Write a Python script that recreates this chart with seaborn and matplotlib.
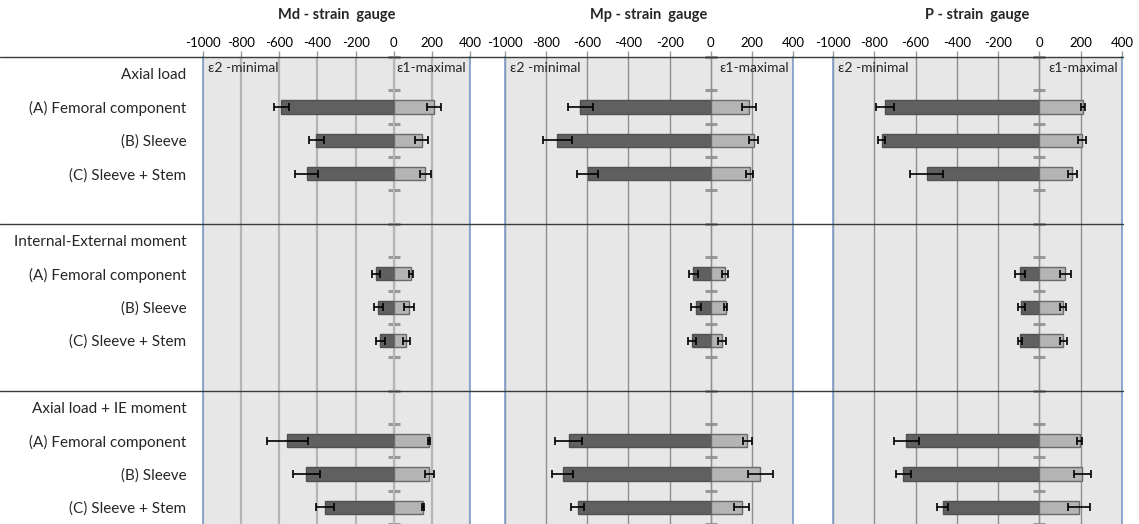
import matplotlib.pyplot as plt
import matplotlib.transforms as mtransforms
from matplotlib.lines import Line2D
import numpy as np
import pandas as pd
import seaborn as sns

# rows of the chart (top to bottom), headers and gaps have no bars
row_keys = ["h1", "A1", "B1", "C1", "g1",
            "h2", "A2", "B2", "C2", "g2",
            "h3", "A3", "B3", "C3"]
row_labels = ["Axial load", "(A) Femoral component", "(B) Sleeve", "(C) Sleeve + Stem", "",
              "Internal-External moment", "(A) Femoral component", "(B) Sleeve", "(C) Sleeve + Stem", "",
              "Axial load + IE moment", "(A) Femoral component", "(B) Sleeve", "(C) Sleeve + Stem"]
bar_rows = ["A1", "B1", "C1", "A2", "B2", "C2", "A3", "B3", "C3"]

gauges = ["Md - strain  gauge", "Mp - strain  gauge", "P - strain  gauge"]

# eps2 (minimal) and eps1 (maximal) strains, mean and sd
md_eps2 = [-589, -405, -455, -92, -80, -70, -557, -459, -360]
md_eps2_sd = [40, 40, 60, 22, 22, 23, 108, 71, 47]
md_eps1 = [212, 146, 166, 91, 80, 67, 185, 187, 154]
md_eps1_sd = [37, 32, 27, 10, 25, 20, 5, 23, 7]

mp_eps2 = [-633, -745, -598, -84, -70, -90, -691, -720, -647]
mp_eps2_sd = [63, 70, 52, 22, 24, 20, 65, 50, 30]
mp_eps1 = [186, 208, 190, 70, 73, 56, 177, 242, 150]
mp_eps1_sd = [34, 23, 17, 15, 7, 20, 22, 60, 36]

p_eps2 = [-748, -765, -545, -95, -88, -95, -644, -659, -469]
p_eps2_sd = [45, 15, 80, 24, 17, 10, 60, 38, 25]
p_eps1 = [210, 205, 160, 125, 113, 116, 195, 208, 191]
p_eps1_sd = [10, 20, 20, 26, 15, 18, 13, 42, 52]

data = [(md_eps2, md_eps2_sd, md_eps1, md_eps1_sd),
        (mp_eps2, mp_eps2_sd, mp_eps1, mp_eps1_sd),
        (p_eps2, p_eps2_sd, p_eps1, p_eps1_sd)]

sns.set_style("white")
plt.rcParams["font.family"] = ["Lato", "DejaVu Sans"]
plt.rcParams["axes.unicode_minus"] = False

W, H = 1139, 524
fig = plt.figure(figsize=(W / 100, H / 100), dpi=100)

# axes boxes in pixels: left, right
boxes = [(203, 470), (505, 793), (833, 1122)]
top_px = 57
grid_col = ["#b5b5b5", "#8f8f8f", "#8f8f8f"]
grid_lw = [1.6, 1.0, 1.0]

positions = [row_keys.index(k) for k in bar_rows]
axes = []
for i, ((l, r), (e2, e2sd, e1, e1sd)) in enumerate(zip(boxes, data)):
    ax = fig.add_axes([l / W, 0, (r - l) / W, (H - top_px) / H])
    axes.append(ax)
    ax.set_facecolor("#e7e7e7")

    neg = pd.DataFrame({"row": bar_rows, "value": e2})
    pos = pd.DataFrame({"row": bar_rows, "value": e1})
    sns.barplot(data=neg, x="value", y="row", order=row_keys, orient="h",
                color="#606060", saturation=1, width=0.4, edgecolor="#505050",
                linewidth=1, errorbar=None, ax=ax, zorder=2)
    sns.barplot(data=pos, x="value", y="row", order=row_keys, orient="h",
                color="#b4b4b4", saturation=1, width=0.4, edgecolor="#6a6a6a",
                linewidth=1, errorbar=None, ax=ax, zorder=2)
    ax.errorbar(e2, positions, xerr=e2sd, fmt="none", ecolor="black",
                elinewidth=1.2, capsize=3, capthick=1.2, zorder=4)
    ax.errorbar(e1, positions, xerr=e1sd, fmt="none", ecolor="black",
                elinewidth=1.2, capsize=3, capthick=1.2, zorder=4)

    ax.set_xlim(-1000, 400)
    ax.set_ylim(13.5, -0.5)
    ax.set_xticks(np.arange(-1000, 401, 200))
    ax.xaxis.tick_top()
    ax.tick_params(axis="x", length=4, width=1, color="#999999", pad=2,
                   labelsize=9.5, labelcolor="black")
    ax.grid(axis="x", color=grid_col[i], lw=grid_lw[i])
    ax.set_axisbelow(True)
    ax.set_xlabel("")
    ax.set_ylabel("")

    if i == 0:
        ax.set_yticks(range(len(row_keys)))
        ax.set_yticklabels(row_labels, fontsize=11)
        ax.tick_params(axis="y", length=0, pad=12)
    else:
        ax.set_yticks([])

    for s in ["top", "bottom"]:
        ax.spines[s].set_visible(False)
    for s in ["left", "right"]:
        ax.spines[s].set_color("#7f9cc8")
        ax.spines[s].set_linewidth(1.2)

    # vertical axis crossing at zero with cross ticks between rows
    zero = ax.secondary_yaxis(location=1000 / 1400)
    zero.set_yticks(np.arange(-0.5, len(row_keys), 1))
    zero.set_yticklabels([])
    zero.tick_params(direction="inout", length=9, width=2.2, color="#9a9a9a",
                     labelleft=False, labelright=False)
    zero.spines["left"].set_color("#9a9a9a")
    zero.spines["left"].set_linewidth(2.5)

    lbl_tr = mtransforms.blended_transform_factory(ax.transAxes, ax.transData)
    ax.text(0.5, 1.09, gauges[i], transform=ax.transAxes, ha="center",
            va="center", fontsize=10.5, fontweight="bold")
    ax.text(0.018, -0.17, "ε2 -minimal", transform=lbl_tr,
            ha="left", va="center", fontsize=10)
    ax.text(0.985, -0.17, "ε1-maximal", transform=lbl_tr,
            ha="right", va="center", fontsize=10)

# horizontal separators across the figure
tr = mtransforms.blended_transform_factory(fig.transFigure, axes[0].transData)
for yb in [-0.5, 4.5, 9.5]:
    fig.add_artist(Line2D([0, 1123 / W], [yb, yb], color="#3a3a3a", lw=1,
                          transform=tr, zorder=10))

fig.savefig("out.png", dpi=100)
